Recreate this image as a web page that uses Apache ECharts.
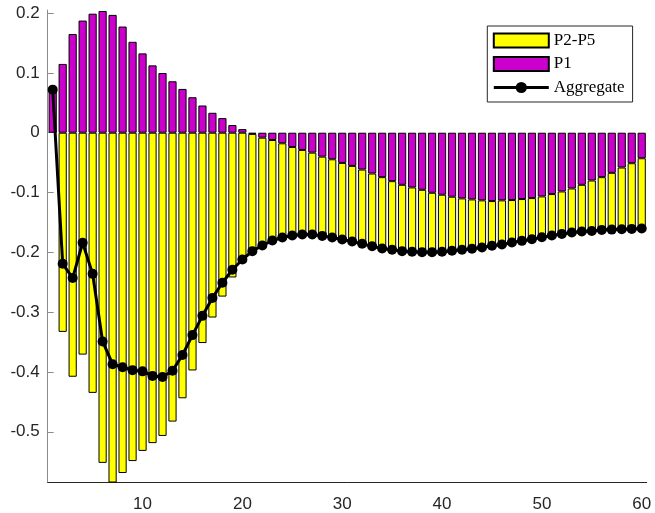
<!DOCTYPE html>
<html>
<head>
<meta charset="utf-8">
<script src="https://cdn.jsdelivr.net/npm/echarts@6/dist/echarts.min.js"></script>
<style>html,body{margin:0;padding:0;background:#fff;}#c{width:655px;height:513px;}</style>
</head>
<body>
<div id="c"></div>
<script>
var categories = ['1','2','3','4','5','6','7','8','9','10','11','12','13','14','15','16','17','18','19','20',
  '21','22','23','24','25','26','27','28','29','30','31','32','33','34','35','36','37','38','39','40',
  '41','42','43','44','45','46','47','48','49','50','51','52','53','54','55','56','57','58','59','60'];
var p1 = [0.072, 0.115, 0.165, 0.1875, 0.199, 0.2035, 0.197, 0.1775, 0.152, 0.1326,
  0.1126, 0.0998, 0.086, 0.0732, 0.0593, 0.0455, 0.0333, 0.0244, 0.0128, 0.006,
  -0.002, -0.0083, -0.0122, -0.0177, -0.0238, -0.0288, -0.0333, -0.04, -0.0444, -0.0505,
  -0.0555, -0.0616, -0.0682, -0.0743, -0.081, -0.0871, -0.0915, -0.0954, -0.1004, -0.1037,
  -0.107, -0.1098, -0.1115, -0.1131, -0.1143, -0.1131, -0.1126, -0.1109, -0.1093, -0.1065,
  -0.1026, -0.0982, -0.0932, -0.0871, -0.0799, -0.0743, -0.0671, -0.0582, -0.051, -0.0427];
var p2p5 = [0, -0.333, -0.408, -0.371, -0.435, -0.552, -0.586, -0.569, -0.549, -0.532,
  -0.519, -0.507, -0.483, -0.444, -0.3975, -0.3517, -0.309, -0.274, -0.242, -0.218,
  -0.196, -0.1803, -0.1681, -0.1576, -0.1481, -0.1415, -0.137, -0.1325, -0.1309, -0.1281,
  -0.1264, -0.1242, -0.1215, -0.1193, -0.1148, -0.1109, -0.1076, -0.1043, -0.0993, -0.0953,
  -0.0904, -0.086, -0.0826, -0.0788, -0.0748, -0.0738, -0.071, -0.0699, -0.0687, -0.0682,
  -0.0693, -0.071, -0.0737, -0.0782, -0.0843, -0.0882, -0.0949, -0.1032, -0.1098, -0.1176];
var aggregate = [0.072, -0.219, -0.243, -0.184, -0.236, -0.349, -0.387, -0.392, -0.397, -0.399,
  -0.4066, -0.4083, -0.398, -0.3717, -0.3384, -0.3062, -0.2762, -0.2508, -0.2291, -0.212,
  -0.198, -0.1886, -0.1803, -0.1753, -0.1719, -0.1703, -0.1703, -0.1725, -0.1753, -0.1786,
  -0.1819, -0.1858, -0.1897, -0.1936, -0.1958, -0.198, -0.1991, -0.1997, -0.1997, -0.199,
  -0.1974, -0.1958, -0.1941, -0.1919, -0.1891, -0.1869, -0.1836, -0.1808, -0.178, -0.1747,
  -0.1719, -0.1692, -0.1669, -0.1653, -0.1642, -0.1625, -0.162, -0.1614, -0.1608, -0.1603];
var yTicks = [-0.5, -0.4, -0.3, -0.2, -0.1, 0, 0.1, 0.2];
var xTickLabels = ['10','20','30','40','50','60'];

var chart = echarts.init(document.getElementById('c'), null, {renderer: 'canvas'});
var showTick = function (idx, val) { return xTickLabels.indexOf(String(val)) >= 0; };
chart.setOption({
  animation: false,
  backgroundColor: '#ffffff',
  grid: {left: 47.7, right: 8.3, top: 10.1, bottom: 28.7, containLabel: false},
  legend: {
    orient: 'vertical',
    left: 487.3, top: 26,
    padding: [6, 8, 6, 5],
    itemWidth: 55, itemHeight: 14, itemGap: 6.5,
    backgroundColor: '#ffffff',
    borderColor: '#262626', borderWidth: 1,
    borderRadius: 0,
    data: [
      {name: 'P2-P5', icon: 'rect'},
      {name: 'P1', icon: 'rect'},
      {name: 'Aggregate', lineStyle: {width: 3}}
    ],
    textStyle: {fontFamily: 'Liberation Serif', fontSize: 17, color: '#000', lineHeight: 14}
  },
  xAxis: {
    type: 'category',
    data: categories,
    boundaryGap: true,
    axisLine: {onZero: false, lineStyle: {color: '#262626', width: 1}},
    axisTick: {inside: true, length: 6, alignWithLabel: true, interval: showTick, lineStyle: {color: '#262626'}},
    axisLabel: {interval: showTick, margin: 14, fontFamily: 'Liberation Sans', fontSize: 17, color: '#262626'},
    splitLine: {show: false}
  },
  yAxis: {
    type: 'value',
    min: -0.584, max: 0.205,
    axisLine: {show: true, lineStyle: {color: '#8c8c8c', width: 1}},
    axisTick: {show: true, inside: true, length: 6, customValues: yTicks, lineStyle: {color: '#8c8c8c'}},
    axisLabel: {customValues: yTicks, margin: 8, fontFamily: 'Liberation Sans', fontSize: 17, color: '#262626',
      formatter: function (v) { return v === 0 ? '0' : v.toFixed(1); }},
    splitLine: {show: false}
  },
  series: [
    {name: 'P1', type: 'bar', stack: 'total', data: p1, barCategoryGap: '18%',
      itemStyle: {color: '#cc00cc', borderColor: '#000000', borderWidth: 1}},
    {name: 'P2-P5', type: 'bar', stack: 'total', data: p2p5, barCategoryGap: '18%',
      itemStyle: {color: '#ffff00', borderColor: '#000000', borderWidth: 1}},
    {name: 'Aggregate', type: 'line', data: aggregate, z: 5,
      symbol: 'circle', symbolSize: 10, showAllSymbol: true,
      lineStyle: {color: '#000000', width: 3},
      itemStyle: {color: '#000000'}}
  ]
});
</script>
</body>
</html>
